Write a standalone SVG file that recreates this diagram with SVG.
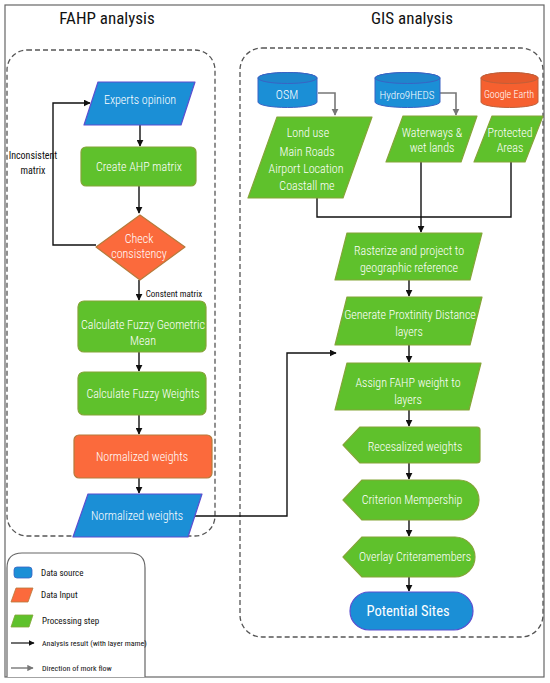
<svg xmlns="http://www.w3.org/2000/svg" width="550" height="683" viewBox="0 0 550 683">
<defs>
<style>
text{font-family:"Roboto Condensed","DejaVu Sans Condensed","Liberation Sans Narrow",Roboto,sans-serif;}
.t{fill:#ffffff;font-size:12px;text-anchor:middle;font-weight:300;}
.title{fill:#111;font-size:17px;text-anchor:middle;}
.lbl{fill:#111;font-size:10px;text-anchor:middle;}
.leg{fill:#111;font-size:9px;}
.blue{fill:#1b8fd6;stroke:#5b4fd0;stroke-width:1.2;stroke-linejoin:round;}
.green{fill:#5fc12c;stroke:#84a537;stroke-width:1.2;stroke-linejoin:round;}
.orange{fill:#fb6a3c;stroke:#b67a3a;stroke-width:1.2;stroke-linejoin:round;}
.cyl{fill:#1b8fd6;stroke:#3a63c4;stroke-width:1;}
.cylo{fill:#f6602f;stroke:#c0603a;stroke-width:1;}
.dash{fill:none;stroke:#555;stroke-width:1.3;stroke-dasharray:5,3;}
.blk{fill:none;stroke:#111;stroke-width:1.4;marker-end:url(#ab);}
.blkn{fill:none;stroke:#111;stroke-width:1.4;}
.gry{fill:none;stroke:#777;stroke-width:1.6;marker-end:url(#ag);}
</style>
<marker id="ab" viewBox="0 0 10 10" refX="9" refY="5" markerWidth="5" markerHeight="5" orient="auto" markerUnits="strokeWidth"><path d="M0,0 L10,5 L0,10 Z" fill="#111"/></marker>
<marker id="ag" viewBox="0 0 10 10" refX="9" refY="5" markerWidth="4.5" markerHeight="4.5" orient="auto" markerUnits="strokeWidth"><path d="M0,0 L10,5 L0,10 Z" fill="#777"/></marker>
</defs>
<rect x="0" y="0" width="550" height="683" fill="#ffffff"/>
<rect x="5" y="5" width="539" height="672" fill="none" stroke="#666" stroke-width="1.2"/>
<text class="title" x="107" y="24">FAHP analysis</text>
<text class="title" x="412" y="24">GIS analysis</text>
<rect class="dash" x="7" y="50" width="208" height="486" rx="20"/>
<rect class="dash" x="240" y="48" width="303" height="589" rx="22"/>

<g id="connectors">
<path class="blk" d="M140,125 V146"/>
<path class="blk" d="M139,186 V213"/>
<path class="blk" d="M96,245 H53 V103 H90"/>
<path class="blk" d="M139,280 V300"/>
<path class="blk" d="M139,352 V371"/>
<path class="blk" d="M139,415 V434"/>
<path class="blk" d="M139,478 V493"/>
<path class="blk" d="M195,516 H287 V353 H336"/>
<path class="gry" d="M318,93 H335 V115"/>
<path class="gry" d="M440,93 H456 V115"/>
<path class="blkn" d="M317,198 V217 H511 V162"/>
<path class="blkn" d="M421,162 V217"/>
<path class="blk" d="M421,217 V232"/>
<path class="blk" d="M409,280 V296"/>
<path class="blk" d="M409,345 V362"/>
<path class="blk" d="M409,410 V426"/>
<path class="blk" d="M409,463 V479"/>
<path class="blk" d="M409,520 V536"/>
<path class="blk" d="M409,577 V591"/>
<text class="lbl" x="33" y="159">Inconsistent</text>
<text class="lbl" x="33" y="174">matrix</text>
<text class="lbl" x="174" y="297" style="font-size:9px">Constent matrix</text>
</g>

<g id="experts-opinion">
<path class="blue" d="M98,82 H195 L181,125 H84 Z"/>
<text class="t" x="140" y="104">Experts opinion</text>
</g>
<g id="create-ahp">
<rect class="green" x="81" y="147" width="115" height="39" rx="5"/>
<text class="t" x="139" y="171">Create AHP matrix</text>
</g>
<g id="check-consistency">
<path class="orange" d="M140,215 L185,247 L140,280 L96,247 Z"/>
<text class="t" x="139" y="243">Check</text>
<text class="t" x="139" y="258">consistency</text>
</g>
<g id="fuzzy-geometric">
<rect class="green" x="78" y="301" width="128" height="51" rx="6"/>
<text class="t" x="143" y="329">Calculate Fuzzy Geometric</text>
<text class="t" x="143" y="345">Mean</text>
</g>
<g id="fuzzy-weights">
<rect class="green" x="78" y="372" width="128" height="43" rx="6"/>
<text class="t" x="143" y="398">Calculate Fuzzy Weights</text>
</g>
<g id="normalized-orange">
<rect class="orange" x="74" y="435" width="138" height="43" rx="5"/>
<text class="t" x="142" y="461">Normalized weights</text>
</g>
<g id="normalized-blue">
<path class="blue" d="M88,494 H202 L188,537 H73 Z"/>
<text class="t" x="137" y="520">Normalized weights</text>
</g>

<g id="osm">
<path class="cyl" d="M258,78 V102 A29.5,5.5 0 0 0 317,102 V78 A29.5,5.5 0 0 0 258,78 Z"/>
<ellipse cx="287.5" cy="78" rx="29.5" ry="5.5" fill="#1e86cc" stroke="#3a63c4" stroke-width="1"/>
<text class="t" x="287" y="99">OSM</text>
</g>
<g id="hydro">
<path class="cyl" d="M375,78 V102 A32.5,5.5 0 0 0 440,102 V78 A32.5,5.5 0 0 0 375,78 Z"/>
<ellipse cx="407.5" cy="78" rx="32.5" ry="5.5" fill="#1e86cc" stroke="#3a63c4" stroke-width="1"/>
<text class="t" x="407" y="99" style="font-size:11px">Hydro9HEDS</text>
</g>
<g id="google-earth">
<path class="cylo" d="M481,78 V102 A28.5,5.5 0 0 0 538,102 V78 A28.5,5.5 0 0 0 481,78 Z"/>
<ellipse cx="509.5" cy="78" rx="28.5" ry="5.5" fill="#e55a2c" stroke="#c0603a" stroke-width="1"/>
<text class="t" x="509" y="98" style="font-size:10px">Google Earth</text>
</g>
<g id="land-use">
<path class="green" d="M277,117 H372 L343,198 H248 Z"/>
<text class="t" x="308" y="137">Lond use</text>
<text class="t" x="307" y="156">Main Roads</text>
<text class="t" x="306" y="173">Airport Location</text>
<text class="t" x="307" y="190">Coastall me</text>
</g>
<g id="waterways">
<path class="green" d="M403,116 H477 L461,162 H386 Z"/>
<text class="t" x="432" y="137">Waterways &amp;</text>
<text class="t" x="432" y="152">wet lands</text>
</g>
<g id="protected">
<path class="green" d="M492,116 H543 L525,162 H474 Z"/>
<text class="t" x="510" y="137">Protected</text>
<text class="t" x="510" y="152">Areas</text>
</g>
<g id="rasterize">
<path class="green" d="M347,233 H482 L470,280 H335 Z"/>
<text class="t" x="409" y="255">Rasterize and project to</text>
<text class="t" x="409" y="272">geographic reference</text>
</g>
<g id="proximity">
<path class="green" d="M347,297 H482 L470,345 H335 Z"/>
<text class="t" x="410" y="319">Generate Proxtinity Distance</text>
<text class="t" x="409" y="336">layers</text>
</g>
<g id="assign">
<path class="green" d="M347,363 H481 L469,410 H335 Z"/>
<text class="t" x="408" y="387">Assign FAHP weight to</text>
<text class="t" x="408" y="404">layers</text>
</g>
<g id="recesalized">
<path class="green" d="M343,445 L360,427 H477 Q480,427 480,430 V460 Q480,463 477,463 H360 Z"/>
<text class="t" x="415" y="451">Recesalized weights</text>
</g>
<g id="criterion">
<path class="green" d="M343,500 L362,480 H459 A20,20 0 0 1 459,520 H362 Z"/>
<text class="t" x="412" y="504">Criterion Mempership</text>
</g>
<g id="overlay">
<path class="green" d="M343,557 L362,537 H455 A20,20 0 0 1 455,577 H362 Z"/>
<text class="t" x="415" y="561">Overlay Criteramembers</text>
</g>
<g id="potential-sites">
<rect class="blue" x="350" y="592" width="123" height="38" rx="19"/>
<text class="t" x="408" y="616" style="font-size:14.5px;font-weight:400">Potential Sites</text>
</g>

<g id="legend">
<path d="M7,677 V568 Q7,553 22,553 H130 Q145,553 145,568 V677" fill="#fff" stroke="#666" stroke-width="1.2"/>
<rect x="14" y="567" width="18" height="11" rx="3" fill="#1b8fd6" stroke="#3a63c4" stroke-width="0.8"/>
<text class="leg" x="41" y="576">Data source</text>
<path d="M16,588 H33 L28,602 H11 Z" fill="#fb6a3c" stroke="#b67a3a" stroke-width="0.8"/>
<text class="leg" x="41" y="598">Data Input</text>
<path d="M15,615 H33 L29,627 H11 Z" fill="#5fc12c" stroke="#84a537" stroke-width="0.8"/>
<text class="leg" x="42" y="624">Processing step</text>
<path d="M11,643 H34" stroke="#111" stroke-width="1.2" marker-end="url(#ab)"/>
<text class="leg" x="42" y="646" style="font-size:8px">Analysis result (with layer mame)</text>
<path d="M11,668 H33" stroke="#777" stroke-width="1.4" marker-end="url(#ag)"/>
<text class="leg" x="42" y="671" style="font-size:8px">Direction of mork flow</text>
</g>
</svg>
